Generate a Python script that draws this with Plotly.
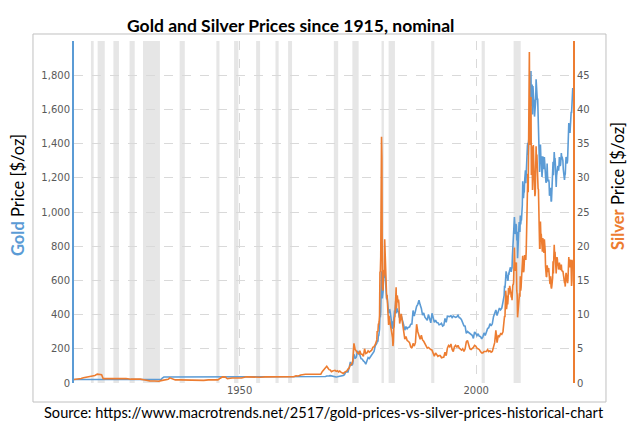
import plotly.graph_objects as go

# ---------------- data ----------------
# Era A: 1915-1967 (irregular sampling)
dates_a = ["1915-01", "1916-01", "1916-07", "1917-01", "1917-07", "1918-01", "1918-07",
           "1919-01", "1919-06", "1919-12", "1920-06", "1920-11", "1921-03", "1922-01",
           "1923-01", "1924-01", "1925-01", "1926-01", "1927-01", "1928-01", "1929-01",
           "1930-01", "1931-01", "1932-01", "1932-12", "1933-06", "1933-09", "1934-01",
           "1934-06", "1934-12", "1935-04", "1935-12", "1936-06", "1937-06", "1938-06",
           "1939-06", "1940-06", "1941-06", "1942-06", "1943-06", "1944-06", "1945-06",
           "1945-12", "1946-06", "1947-01", "1947-06", "1948-06", "1949-06", "1950-06",
           "1951-06", "1952-06", "1953-06", "1954-06", "1955-06", "1956-06", "1957-06",
           "1958-06", "1959-06", "1960-06", "1961-06", "1961-12", "1962-06", "1962-12",
           "1963-06", "1963-12", "1964-06", "1965-06", "1966-06", "1967-03", "1967-07",
           "1967-12"]
gold_a = [20.67, 20.67, 20.67, 20.67, 20.67, 20.67, 20.67,
          20.67, 20.67, 20.67, 20.67, 20.67, 20.67, 20.67,
          20.67, 20.67, 20.67, 20.67, 20.67, 20.67, 20.67,
          20.67, 20.67, 20.67, 20.67, 20.67, 29.0, 34.7,
          35.0, 35.0, 35.0, 35.0, 35.0, 35.0, 35.0,
          35.0, 35.0, 35.0, 35.0, 35.0, 35.0, 35.0,
          35.0, 35.0, 35.0, 35.0, 35.0, 35.0, 35.0,
          35.0, 35.0, 35.0, 35.0, 35.0, 35.0, 35.0,
          35.0, 35.0, 35.2, 35.3, 35.1, 35.1, 35.1,
          35.1, 35.1, 35.1, 35.1, 35.1, 35.2, 35.2,
          35.2]
silver_a = [0.50, 0.57, 0.65, 0.76, 0.82, 0.88, 0.99,
            1.01, 1.10, 1.30, 1.25, 1.20, 0.64, 0.66,
            0.65, 0.65, 0.69, 0.66, 0.56, 0.58, 0.56,
            0.44, 0.31, 0.30, 0.25, 0.35, 0.38, 0.44,
            0.46, 0.54, 0.75, 0.58, 0.45, 0.45, 0.43,
            0.39, 0.35, 0.35, 0.38, 0.45, 0.45, 0.45,
            0.70, 0.90, 0.86, 0.62, 0.74, 0.72, 0.73,
            0.90, 0.85, 0.85, 0.85, 0.90, 0.91, 0.90,
            0.89, 0.91, 0.91, 0.92, 1.04, 1.02, 1.17,
            1.27, 1.29, 1.29, 1.29, 1.29, 1.29, 1.70,
            2.10]

# Era B: 1968-1978, quarterly (Mar, Jun, Sep, Dec)
years_b = list(range(1968, 1979))
gold_b = [38.0, 41.0, 39.5, 41.9, 43.2, 41.2, 40.8, 35.2, 35.2, 35.4, 36.2, 37.4,
          38.9, 40.1, 42.0, 43.6, 48.3, 65.1, 65.5, 64.9, 90.0, 123.0, 103.0, 112.0,
          168.0, 143.0, 151.0, 187.0, 177.0, 165.0, 142.0, 140.0, 129.0, 123.0, 110.0, 135.0,
          149.0, 143.0, 154.0, 165.0, 181.0, 184.0, 217.0, 226.0]
silver_b = [2.20, 2.45, 2.20, 1.95, 1.90, 1.65, 1.75, 1.80, 1.85, 1.70, 1.80, 1.63,
            1.75, 1.60, 1.45, 1.39, 1.55, 1.67, 1.78, 2.04, 2.20, 2.70, 2.70, 3.20,
            5.80, 4.90, 4.60, 4.40, 4.20, 4.70, 4.20, 4.20, 3.90, 5.00, 4.30, 4.40,
            4.70, 4.50, 4.60, 4.80, 5.20, 5.30, 5.60, 6.00]

# Era C: 1979-1983, monthly
years_c = list(range(1979, 1984))
gold_c = [233, 251, 240, 246, 275, 277, 296, 315, 397, 383, 415, 512,
          653, 637, 494, 518, 535, 653, 614, 631, 667, 629, 619, 590,
          502, 489, 513, 482, 479, 423, 408, 425, 428, 427, 414, 400,
          387, 362, 320, 361, 325, 317, 342, 411, 397, 423, 414, 448,
          481, 408, 414, 429, 437, 416, 422, 414, 405, 382, 405, 382]
silver_c = [6.3, 7.6, 7.5, 7.6, 8.6, 8.6, 9.0, 9.9, 16.2, 16.3, 18.5, 28.0,
            36.0, 33.0, 14.1, 13.5, 13.8, 16.5, 15.6, 16.2, 21.0, 19.0, 17.5, 15.7,
            13.0, 12.4, 12.9, 11.2, 11.5, 8.7, 8.5, 9.8, 9.4, 9.7, 8.9, 8.3,
            8.2, 7.4, 7.0, 7.1, 6.6, 5.4, 6.0, 8.0, 8.2, 9.6, 9.7, 10.9,
            12.4, 14.0, 10.9, 11.8, 12.8, 12.2, 11.8, 12.2, 11.7, 9.3, 8.7, 9.0]

# Era D: 1984-2005, quarterly
years_d = list(range(1984, 2006))
gold_d = [394, 373, 341, 309, 330, 317, 326, 327, 344, 345, 424, 391,
          421, 448, 460, 484, 457, 436, 397, 410, 385, 373, 367, 401,
          369, 352, 408, 386, 355, 367, 354, 353, 341, 343, 349, 333,
          337, 378, 355, 391, 389, 388, 394, 383, 392, 387, 384, 387,
          396, 382, 379, 369, 348, 334, 332, 290, 301, 296, 293, 288,
          279, 261, 299, 290, 277, 288, 273, 272, 258, 270, 293, 278,
          301, 318, 323, 347, 334, 346, 388, 416, 427, 395, 415, 438,
          428, 437, 473, 513]
silver_d = [10.1, 8.7, 7.1, 6.4, 6.8, 6.2, 6.1, 5.9, 5.3, 5.1, 5.8, 5.4,
            5.9, 8.6, 7.5, 6.7, 6.4, 7.0, 6.3, 6.1, 5.8, 5.3, 5.1, 5.2,
            5.0, 4.9, 4.8, 4.2, 3.9, 4.4, 4.1, 3.9, 4.0, 4.0, 3.7, 3.7,
            3.8, 4.5, 4.0, 5.1, 5.5, 5.3, 5.7, 4.9, 4.6, 5.3, 5.5, 5.2,
            5.5, 5.1, 4.9, 4.8, 5.0, 4.6, 5.0, 6.0, 6.2, 5.5, 5.0, 4.9,
            5.0, 5.2, 5.5, 5.4, 5.1, 5.0, 4.9, 4.6, 4.4, 4.4, 4.6, 4.6,
            4.6, 4.9, 4.6, 4.7, 4.5, 4.6, 5.2, 5.9, 7.7, 5.9, 6.9, 6.8,
            7.2, 7.1, 7.5, 8.8]

# Era E: 2006-01 .. 2020-06, monthly
years_e = list(range(2006, 2021))
gold_e = [569, 556, 582, 644, 653, 613, 633, 623, 599, 604, 646, 632,
          651, 665, 662, 677, 659, 650, 666, 673, 743, 789, 783, 834,
          923, 971, 933, 871, 885, 930, 918, 833, 884, 730, 819, 869,
          919, 942, 916, 883, 980, 927, 955, 955, 996, 1040, 1180, 1096,
          1081, 1117, 1113, 1180, 1207, 1244, 1169, 1246, 1307, 1357, 1386, 1405,
          1333, 1410, 1439, 1556, 1536, 1505, 1628, 1825, 1620, 1722, 1746, 1570,
          1737, 1696, 1662, 1651, 1558, 1598, 1622, 1648, 1776, 1719, 1714, 1657,
          1663, 1578, 1598, 1469, 1394, 1234, 1314, 1395, 1327, 1323, 1253, 1205,
          1240, 1326, 1291, 1288, 1250, 1322, 1283, 1286, 1210, 1172, 1175, 1199,
          1283, 1213, 1183, 1182, 1190, 1172, 1095, 1135, 1115, 1142, 1065, 1061,
          1118, 1238, 1234, 1293, 1215, 1321, 1351, 1309, 1316, 1273, 1174, 1146,
          1211, 1255, 1245, 1266, 1267, 1242, 1267, 1322, 1279, 1270, 1275, 1303,
          1345, 1318, 1323, 1316, 1300, 1250, 1224, 1202, 1187, 1215, 1222, 1279,
          1321, 1316, 1292, 1284, 1305, 1409, 1427, 1520, 1485, 1511, 1463, 1515,
          1582, 1586, 1577, 1686, 1700, 1725]
silver_e = [9.8, 9.6, 11.5, 13.5, 12.7, 10.8, 11.3, 12.8, 11.5, 12.3, 13.9, 12.9,
            13.4, 14.2, 13.3, 13.5, 13.2, 12.5, 12.9, 12.1, 13.8, 14.4, 14.3, 14.8,
            17.0, 19.8, 17.3, 16.4, 16.9, 17.5, 17.6, 13.5, 12.9, 9.6, 10.2, 11.3,
            12.4, 13.0, 13.1, 12.6, 15.6, 13.5, 14.0, 14.9, 16.5, 16.2, 18.6, 16.9,
            16.2, 16.4, 17.5, 18.7, 18.4, 18.7, 18.0, 19.3, 22.0, 24.7, 28.1, 30.6,
            27.9, 33.9, 37.9, 48.4, 38.4, 34.8, 39.9, 41.8, 30.4, 34.6, 32.7, 28.2,
            33.1, 34.8, 32.5, 31.3, 28.3, 27.3, 27.8, 31.1, 34.6, 32.2, 33.4, 30.0,
            31.7, 28.4, 28.3, 24.0, 22.3, 19.7, 19.7, 23.6, 21.7, 21.8, 19.9, 19.5,
            19.2, 21.2, 19.8, 19.1, 19.0, 21.0, 20.4, 19.4, 17.0, 16.2, 15.5, 15.6,
            17.2, 16.6, 16.6, 16.2, 16.8, 15.6, 14.8, 14.6, 14.5, 15.6, 14.1, 13.8,
            14.2, 15.0, 15.4, 17.8, 16.0, 18.4, 20.2, 18.6, 19.2, 17.7, 16.5, 16.0,
            17.6, 18.4, 18.1, 17.2, 17.3, 16.6, 16.8, 17.6, 16.7, 16.7, 16.5, 17.0,
            17.3, 16.5, 16.3, 16.3, 16.4, 16.0, 15.5, 14.7, 14.7, 14.7, 14.1, 15.5,
            16.1, 15.8, 15.1, 14.9, 14.6, 15.3, 16.4, 18.4, 17.0, 18.1, 16.9, 17.9,
            18.0, 16.7, 14.2, 15.0, 17.9, 17.9]

# US recessions (NBER), start / end
recession_start = ["1918-08", "1920-01", "1923-05", "1926-10", "1929-08", "1937-05",
                   "1945-02", "1948-11", "1953-07", "1957-08", "1960-04", "1969-12",
                   "1973-11", "1980-01", "1981-07", "1990-07", "2001-03", "2007-12"]
recession_end = ["1919-03", "1921-07", "1924-07", "1927-11", "1933-03", "1938-06",
                 "1945-10", "1949-10", "1954-05", "1958-04", "1961-02", "1970-11",
                 "1975-03", "1980-07", "1982-11", "1991-03", "2001-11", "2009-06"]

gold_ticks = [0, 200, 400, 600, 800, 1000, 1200, 1400, 1600, 1800, 2000]
gold_tick_text = ["0", "200", "400", "600", "800", "1,000", "1,200", "1,400", "1,600", "1,800", ""]
silver_ticks = [0, 5, 10, 15, 20, 25, 30, 35, 40, 45, 50]
silver_tick_text = ["0", "5", "10", "15", "20", "25", "30", "35", "40", "45", ""]
year_ticks = ["1950-01-01", "2000-01-01"]
year_tick_text = ["1950", "2000"]

# ---------------- assemble dates ----------------
dates = list(dates_a)
dates += [f"{y}-{m:02d}" for y in years_b for m in (3, 6, 9, 12)]
dates += [f"{y}-{m:02d}" for y in years_c for m in range(1, 13)]
dates += [f"{y}-{m:02d}" for y in years_d for m in (3, 6, 9, 12)]
dates_e = [f"{y}-{m:02d}" for y in years_e for m in range(1, 13)][:len(gold_e)]
dates += dates_e
gold = gold_a + gold_b + gold_c + gold_d + gold_e
silver = silver_a + silver_b + silver_c + silver_d + silver_e

GOLD_C = "#5B9BD5"
SILVER_C = "#ED7D31"
TICK_FONT = dict(family="DejaVu Sans", size=10, color="#595959")

fig = go.Figure()
fig.add_trace(go.Scatter(x=dates, y=gold, mode="lines", name="Gold",
                         line=dict(color=GOLD_C, width=1.6), yaxis="y"))
fig.add_trace(go.Scatter(x=dates, y=silver, mode="lines", name="Silver",
                         line=dict(color=SILVER_C, width=1.6), yaxis="y2"))

shapes = []
for s, e in zip(recession_start, recession_end):
    shapes.append(dict(type="rect", xref="x", yref="paper", x0=s + "-01", x1=e + "-01",
                       y0=0, y1=1, fillcolor="#e6e6e6", line=dict(width=0), layer="below"))
# outer frame
shapes.append(dict(type="rect", xref="paper", yref="paper", x0=-0.0822, x1=1.0661,
                   y0=-0.0556, y1=1.0205, line=dict(color="#c0c0c0", width=1),
                   fillcolor="rgba(0,0,0,0)", layer="below"))

fig.update_layout(
    width=640, height=434,
    margin=dict(l=74, r=67, t=41, b=51),
    paper_bgcolor="white", plot_bgcolor="white",
    showlegend=False,
    shapes=shapes,
    xaxis=dict(type="date", range=["1915-01-01", "2020-06-20"],
               tickvals=year_ticks, ticktext=year_tick_text, tickfont=TICK_FONT,
               showgrid=True, gridcolor="#d9d9d9", griddash="dash", gridwidth=1,
               showline=False, zeroline=False, ticks=""),
    yaxis=dict(range=[0, 2000], tickvals=gold_ticks, ticktext=gold_tick_text,
               tickfont=TICK_FONT, showgrid=True, gridcolor="#d9d9d9", griddash="dash",
               gridwidth=1, zeroline=False, showline=True, linecolor=GOLD_C,
               linewidth=2, ticks=""),
    yaxis2=dict(range=[0, 50], tickvals=silver_ticks, ticktext=silver_tick_text,
                tickfont=TICK_FONT, overlaying="y", side="right", showgrid=False,
                zeroline=False, showline=True, linecolor=SILVER_C, linewidth=2, ticks=""),
    annotations=[
        dict(text="<b>Gold and Silver Prices since 1915, nominal</b>", xref="paper", yref="paper",
             x=0.4329, y=1.045, xanchor="center", yanchor="middle", showarrow=False,
             font=dict(family="Lato", size=17.5, color="#000000")),
        dict(text="Source: https://www.macrotrends.net/2517/gold-prices-vs-silver-prices-historical-chart",
             xref="paper", yref="paper", x=0.5, y=-0.0877, xanchor="center", yanchor="middle",
             showarrow=False, font=dict(family="Lato", size=14.6, color="#000000")),
        dict(text=f"<b><span style='color:{GOLD_C}'>Gold</span></b> Price [$/oz]",
             xref="paper", yref="paper", x=-0.1122, y=0.5497, xanchor="center", yanchor="middle",
             textangle=-90, showarrow=False, font=dict(family="Lato", size=16.5, color="#000000")),
        dict(text=f"<b><span style='color:{SILVER_C}'>Silver</span></b> Price [$/oz]",
             xref="paper", yref="paper", x=1.0902, y=0.576, xanchor="center", yanchor="middle",
             textangle=-90, showarrow=False, font=dict(family="Lato", size=16.5, color="#000000")),
    ],
)

fig.write_html("out.html", config={"displayModeBar": False},
               post_script="document.body.style.margin='0px';")
